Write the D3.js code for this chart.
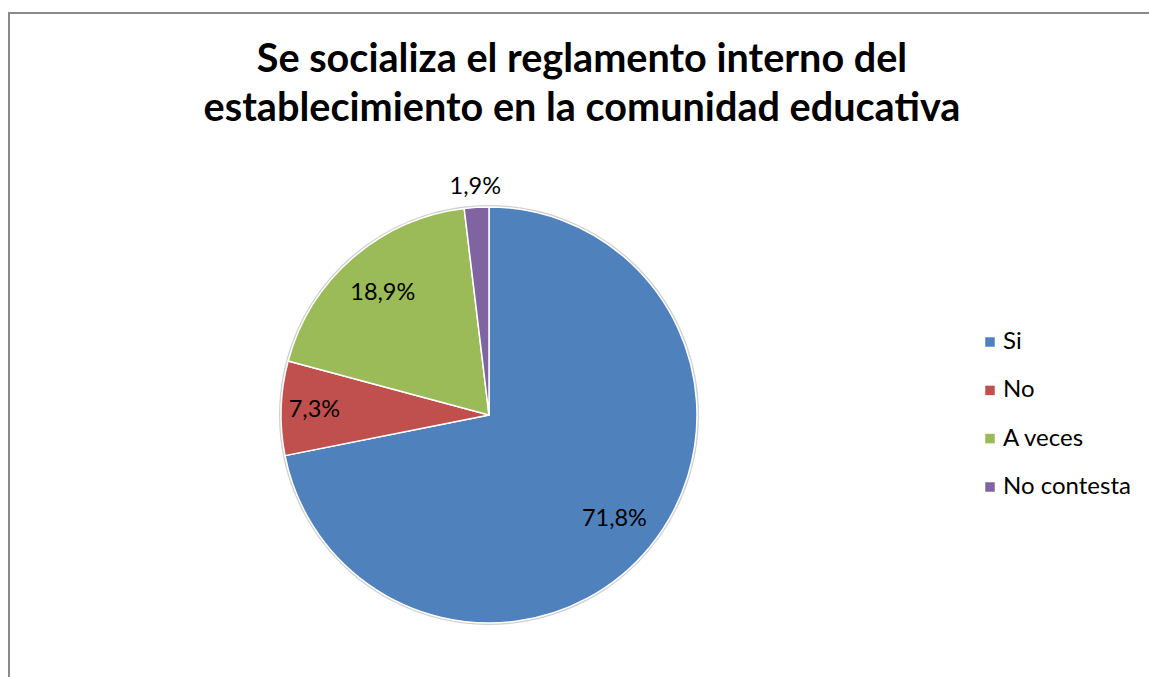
<!DOCTYPE html>
<html><head><meta charset="utf-8">
<script src="https://cdn.jsdelivr.net/npm/d3@7"></script>
<style>body{margin:0;background:#fff;}svg{display:block;}</style>
</head><body>
<svg id="c" width="1149" height="677"></svg>
<script>
const categories = ["Si", "No", "A veces", "No contesta"];
const values = [71.8, 7.3, 18.9, 1.9];
const valueLabels = ["71,8%", "7,3%", "18,9%", "1,9%"];
const colors = ["#4F81BD", "#C0504D", "#9BBB59", "#8064A2"];
const titleLines = ["Se socializa el reglamento interno del", "establecimiento en la comunidad educativa"];

const svg = d3.select("#c");
const font = "Lato, 'Open Sans', sans-serif";

// frame
svg.append("rect").attr("x", 9).attr("y", 13).attr("width", 1150).attr("height", 700)
  .attr("fill", "none").attr("stroke", "#8a8a8a").attr("stroke-width", 2);

// title
const tg = svg.append("g");
const baselines = [72, 121];
titleLines.forEach((t, i) => {
  tg.append("text").attr("x", 582).attr("y", baselines[i]).attr("text-anchor", "middle")
    .attr("font-family", font).attr("font-weight", "bold").attr("font-size", 36)
    .attr("fill", "#000").text(t);
});
{
  const t2 = tg.selectAll("text").nodes()[1];
  const fs = 36 * 757 / t2.getComputedTextLength();
  tg.selectAll("text").attr("font-size", fs);
}

// pie
const cx = 489, cy = 415, r = 208;
const pie = d3.pie().sort(null).value(d => d)(values);
const arc = d3.arc().innerRadius(0).outerRadius(r);
const g = svg.append("g").attr("transform", `translate(${cx},${cy})`);
g.append("circle").attr("r", r + 1).attr("fill", "none").attr("stroke", "#d0d0d0").attr("stroke-width", 2);
g.selectAll("path").data(pie).join("path")
  .attr("d", arc).attr("fill", (d, i) => colors[i])
  .attr("stroke", "#fff").attr("stroke-width", 1.5).attr("stroke-linejoin", "round");

// labels
const total = d3.sum(values);
const labels = g.selectAll("text.lbl").data(pie).join("text").attr("class", "lbl")
  .each(function(d, i) {
    const frac = values[i] / total;
    const k = frac < 0.03 ? 1.105 : (frac < 0.1 ? 0.84 : 0.78);
    const la = d3.arc().innerRadius(r * k).outerRadius(r * k);
    const [x, y] = la.centroid(d);
    d3.select(this).attr("x", x).attr("y", y + 8);
  })
  .attr("text-anchor", "middle").attr("font-family", font).attr("font-size", 20)
  .attr("fill", "#000").text((d, i) => valueLabels[i]);
{
  const fs = 20 * 65 / labels.nodes()[0].getComputedTextLength();
  labels.attr("font-size", fs);
}

// legend
const ly = d3.scalePoint().domain(categories).range([342, 487]);
const lg = svg.append("g");
const ltexts = [];
categories.forEach((c, i) => {
  lg.append("rect").attr("x", 985).attr("y", ly(c) - 5).attr("width", 10).attr("height", 10)
    .attr("fill", colors[i]).attr("stroke", "#fff").attr("stroke-width", 0.5);
  ltexts.push(lg.append("text").attr("x", 1003).attr("y", ly(c) + 7).attr("font-family", font)
    .attr("font-size", 20).attr("fill", "#000").text(c).node());
});
{
  const fs = 20 * 128 / ltexts[3].getComputedTextLength();
  ltexts.forEach(n => n.setAttribute("font-size", fs));
}
</script>
</body></html>
